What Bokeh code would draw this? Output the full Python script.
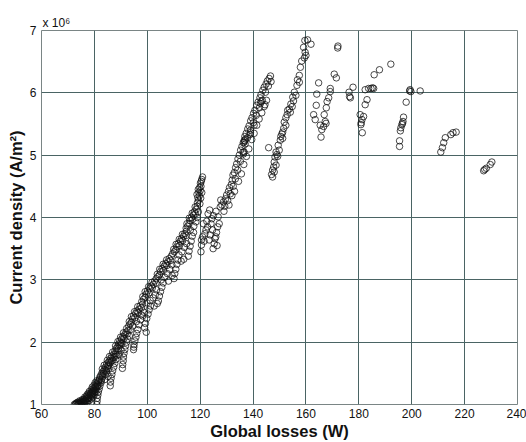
from bokeh.plotting import figure
from bokeh.models import FixedTicker, Range1d
from bokeh.embed import file_html
from bokeh.resources import INLINE

# ---- data: global losses (W) vs current density (x 1e6 A/m^2) ----
band_bottom = [
    (72.4,1.00),(72.8,1.00),(73.2,1.01),(73.6,1.00),(74.0,1.02),(74.4,1.01),(74.9,1.03),(75.3,1.02),
    (75.8,1.04),(76.2,1.05),(76.0,1.08),(76.6,1.07),(77.1,1.09),(77.5,1.10),(77.0,1.13),(77.9,1.12),
    (78.3,1.15),(77.8,1.18),(78.6,1.19),(79.0,1.17),(79.4,1.21),(78.9,1.24),(79.7,1.26),(80.1,1.23),
    (80.4,1.29),(79.9,1.31),(80.8,1.33),(81.2,1.30),(81.5,1.36),(80.9,1.38),(81.9,1.40),(74.5,1.06),
    (75.5,1.08),(76.4,1.12),(77.3,1.16),(78.1,1.21),(79.2,1.28),(80.3,1.35),(73.9,1.04),(75.0,1.00),
    (76.1,1.01),(77.2,1.03),(78.0,1.06),(78.8,1.09),(79.5,1.12),(80.0,1.16),(80.6,1.20),(81.0,1.05),
    (80.9,1.00),(81.1,1.10),(81.3,1.15),(81.5,1.20),(81.8,1.25),(82.1,1.30),(82.5,1.35),(82.8,1.41),
    (83.2,1.45),(73.0,1.02),(73.5,1.03),(74.2,1.00),(74.7,1.04),(75.1,1.05),(75.7,1.01),(76.3,1.03),
    (76.8,1.05),(77.4,1.06),(77.8,1.09),(78.4,1.11),(78.9,1.14),(79.3,1.16),(79.8,1.19),(80.2,1.21),
    (80.7,1.25),(81.0,1.28),(75.9,1.06),(76.7,1.10),(77.6,1.14),(78.5,1.17),(79.1,1.20),(79.6,1.23),
    (80.5,1.27),(81.4,1.32),(81.7,1.38),(82.0,1.43),
]
band_low = [
    (82.3,1.46),(82.8,1.50),(83.3,1.53),(83.0,1.57),(83.8,1.56),(84.2,1.60),(83.7,1.63),(84.6,1.65),
    (85.0,1.62),(85.3,1.68),(84.9,1.71),(85.8,1.70),(86.2,1.74),(85.7,1.77),(86.6,1.78),(87.1,1.75),
    (87.4,1.81),(86.9,1.84),(84.0,1.48),(84.5,1.52),(85.5,1.58),(86.0,1.30),(86.1,1.36),(86.3,1.42),
    (86.6,1.48),(86.9,1.54),(87.3,1.60),(87.7,1.66),(88.1,1.72),(88.4,1.78),(85.2,1.45),(83.9,1.40),
    (82.6,1.38),(82.9,1.47),(83.5,1.50),(84.3,1.55),(84.8,1.58),(85.4,1.63),(86.0,1.67),(86.5,1.70),
    (87.0,1.71),(87.6,1.77),(88.1,1.81),(88.6,1.86),(89.1,1.90),(89.7,1.95),(90.4,1.98),
    (87.8,1.86),(88.3,1.90),(88.0,1.94),(88.8,1.93),(89.2,1.97),(88.9,2.01),(89.6,2.02),(90.0,1.99),
    (90.3,2.05),(89.9,2.08),(90.8,2.09),(91.2,2.06),(91.5,2.12),(91.0,2.15),(92.0,2.16),(92.4,2.13),
    (92.7,2.19),(92.2,2.22),(90.6,1.58),(90.7,1.64),(90.9,1.70),(91.0,1.76),(91.2,1.82),(91.5,1.88),
    (91.8,1.94),(92.2,2.00),(92.6,2.05),(93.2,2.10),(93.6,2.20),(94.8,1.88),(94.9,1.92),(95.0,1.96),
    (95.3,2.02),(95.7,2.08),(96.0,2.14),(96.4,2.20),(89.4,1.80),(90.1,1.87),
]
band_mid = [
    (93.0,2.26),(93.5,2.29),(93.2,2.33),(94.0,2.32),(94.4,2.37),(94.0,2.41),(94.8,2.42),(95.3,2.39),
    (95.6,2.46),(95.2,2.49),(96.1,2.50),(96.5,2.47),(96.9,2.53),(96.4,2.57),(97.3,2.58),(97.8,2.55),
    (98.2,2.61),(94.5,2.26),(95.9,2.33),(96.8,2.28),(97.5,2.36),(98.3,2.42),(99.0,2.23),(99.3,2.30),
    (99.8,2.38),(100.3,2.45),(100.7,2.52),(99.6,2.16),(101.2,2.58),(98.8,2.48),(97.7,2.44),
    (97.9,2.65),(98.6,2.69),(98.3,2.73),(99.2,2.72),(99.6,2.77),(99.2,2.81),(100.1,2.82),(100.6,2.79),
    (100.9,2.86),(100.5,2.89),(101.5,2.90),(101.9,2.87),(102.3,2.93),(101.8,2.96),(102.8,2.98),
    (103.3,2.95),(99.9,2.63),(101.1,2.67),(102.2,2.71),(103.0,2.76),(103.5,2.84),(104.2,2.66),
    (104.6,2.74),(105.0,2.81),(105.5,2.88),(106.0,2.95),(102.6,2.58),(103.8,2.62),
    (103.4,3.02),(104.0,3.05),(103.8,3.09),(104.6,3.08),(105.0,3.13),(104.7,3.17),(105.6,3.18),
    (106.1,3.15),(106.4,3.22),(106.0,3.25),(107.0,3.26),(107.4,3.23),(107.8,3.29),(107.3,3.32),
    (108.3,3.34),(108.8,3.31),(109.1,3.38),(105.3,3.00),(106.6,3.04),(107.6,3.10),(108.5,3.17),
    (109.3,3.24),(110.1,3.02),(110.4,3.10),(110.8,3.17),(111.2,3.25),(111.6,3.32),(108.0,2.98),
    (109.4,3.07),
]
band_high = [
    (109.6,3.42),(110.2,3.45),(110.0,3.49),(110.8,3.48),(111.2,3.53),(110.9,3.57),(111.7,3.58),
    (112.2,3.55),(112.5,3.62),(112.1,3.65),(113.0,3.66),(113.4,3.63),(113.7,3.70),(113.3,3.73),
    (114.2,3.74),(114.6,3.71),(114.8,3.78),(112.0,3.40),(113.1,3.45),(114.0,3.52),(114.9,3.58),
    (115.5,3.38),(115.8,3.46),(116.2,3.54),(116.6,3.62),(117.0,3.70),(113.8,3.33),(112.8,3.30),
    (114.7,3.83),(115.3,3.86),(115.0,3.90),(115.8,3.90),(116.2,3.95),(115.9,3.99),(116.7,4.00),
    (117.1,3.97),(117.4,4.04),(117.0,4.07),(117.8,4.09),(118.2,4.06),(118.5,4.13),(118.1,4.17),
    (118.9,4.18),(116.3,3.80),(117.6,3.86),(118.4,3.93),(118.9,4.00),(119.3,4.09),(117.5,3.76),
    (119.0,4.24),(119.4,4.28),(119.1,4.32),(119.7,4.35),(119.5,4.40),(120.0,4.43),(119.8,4.48),
    (120.3,4.50),(120.1,4.55),(120.4,4.58),(120.9,4.65),(120.6,4.61),(119.9,4.22),(120.2,4.31),
    (120.6,4.40),(119.3,4.45),(118.8,4.37),
]
branch = [
    (120.3,3.45),(120.5,3.56),(120.5,3.64),(120.9,3.69),(121.5,3.62),(121.8,3.74),(122.2,3.80),
    (122.8,3.85),(122.5,3.94),(123.0,4.06),(123.4,3.64),(123.8,3.72),(124.1,3.90),(124.7,3.80),
    (124.4,3.98),(125.3,3.58),(125.6,3.66),(125.9,3.69),(126.2,3.76),(126.6,3.85),(126.8,4.01),
    (127.2,3.90),(127.6,4.17),(127.8,4.28),(126.0,4.10),(125.0,4.03),(123.6,4.12),(121.2,3.90),
    (124.9,3.50),(126.4,3.55),
]
band_upper = [
    (128.2,4.20),(128.8,4.25),(129.3,4.18),(129.6,4.30),(130.0,4.36),(130.4,4.27),(130.7,4.42),
    (131.1,4.48),(131.4,4.38),(131.8,4.53),(132.1,4.60),(132.5,4.50),(132.4,4.68),(132.9,4.72),
    (133.3,4.62),(133.4,4.80),(133.8,4.86),(134.2,4.76),(134.3,4.94),(134.8,5.00),(135.2,4.90),
    (135.3,5.08),(135.8,5.14),(136.2,5.05),(136.3,5.20),(136.7,5.24),(137.0,5.18),(136.9,5.30),
    (137.4,5.35),(137.9,5.28),(138.0,5.42),(138.5,5.47),(139.0,5.40),(139.1,5.55),(139.6,5.60),
    (140.1,5.52),(140.2,5.67),(140.7,5.72),(141.2,5.64),(141.4,5.80),(141.9,5.85),(142.4,5.76),
    (142.6,5.92),(143.0,5.97),(143.5,5.88),(143.7,6.04),(144.2,6.09),(144.7,6.01),(144.9,6.14),
    (145.4,6.19),(145.8,6.11),(146.1,6.23),(146.6,6.27),(146.8,6.18),(129.0,4.10),(130.9,4.20),
    (132.0,4.35),(133.0,4.42),(134.5,4.58),(135.6,4.70),(136.5,4.85),(137.5,4.98),(138.4,5.10),
    (139.5,5.25),(140.4,5.35),(141.4,5.48),(142.3,5.58),(143.3,5.68),(144.2,5.78),(145.1,5.88),
    (136.6,5.21),(136.9,5.23),(137.2,5.26),(136.4,5.02),(136.6,5.05),(138.8,5.33),(139.0,5.36),
    (140.4,5.48),(142.8,5.83),(143.1,5.86),(144.5,5.81),(145.9,5.12),
]
strand_160 = [
    (160.6,6.85),(161.9,6.78),(159.6,6.84),(159.1,6.73),(159.7,6.65),(160.0,6.60),(159.4,6.56),
    (158.4,6.51),(157.9,6.41),(157.5,6.28),(156.8,6.21),(157.5,6.17),(156.6,6.12),(155.6,6.01),
    (156.2,5.96),(155.0,5.93),(155.3,5.87),(154.3,5.82),(153.7,5.74),(153.1,5.72),(154.1,5.69),
    (152.4,5.60),(151.8,5.53),(152.4,5.48),(151.6,5.43),(151.2,5.37),(150.5,5.30),(151.2,5.27),
    (150.3,5.24),(149.5,5.16),(149.9,5.08),(148.7,5.05),(149.3,4.98),(148.3,4.97),(148.0,4.89),
    (148.7,4.84),(147.8,4.81),(147.4,4.76),(148.0,4.73),(147.0,4.69),(147.4,4.65),(154.8,5.78),
    (152.9,5.65),(150.9,5.34),(149.0,5.01),
]
cluster_165 = [
    (164.8,6.16),(164.1,5.98),(163.9,5.80),(162.9,5.65),(163.5,5.57),(165.7,5.29),(166.0,5.41),
    (166.7,5.46),(167.3,5.54),(166.9,5.65),(167.7,5.76),(168.0,5.86),(168.6,5.92),(169.2,6.07),
    (170.7,6.30),(171.5,6.24),(172.0,6.72),(172.1,6.75),(165.4,5.48),(167.6,5.51),(169.2,6.02),
    (176.5,5.94),(176.8,5.92),(176.3,6.01),(177.8,6.09),
]
cluster_182 = [
    (180.5,5.65),(181.2,5.57),(180.8,5.49),(181.3,5.36),(181.8,5.62),(182.4,5.81),(183.1,5.89),
    (182.4,6.05),(183.7,6.07),(184.6,6.07),(185.2,6.08),(185.6,6.07),(185.8,6.29),(187.8,6.37),
    (192.1,6.46),(180.9,5.52),
]
cluster_197 = [
    (197.9,5.85),(196.9,5.61),(196.7,5.54),(196.3,5.49),(195.9,5.44),(195.7,5.39),(195.4,5.23),
    (195.4,5.14),(199.2,6.03),(199.7,6.02),(199.4,6.05),(203.2,6.03),(196.5,5.51),
]
cluster_213 = [
    (211.0,5.05),(211.6,5.12),(212.1,5.20),(212.7,5.28),(214.8,5.33),(215.6,5.36),(216.8,5.37),
]
cluster_229 = [
    (227.2,4.75),(228.2,4.79),(229.7,4.85),(230.3,4.89),(227.6,4.77),
]

x_ticks = [60, 80, 100, 120, 140, 160, 180, 200, 220, 240]
y_ticks = [1, 2, 3, 4, 5, 6, 7]
y_multiplier = "x 10\u2076"

groups = [band_bottom, band_low, band_mid, band_high, branch, band_upper,
          strand_160, cluster_165, cluster_182, cluster_197, cluster_213, cluster_229]
losses_W = [pt[0] for g in groups for pt in g]
density = [pt[1] for g in groups for pt in g]

FONT = "Liberation Sans"

p = figure(output_backend="svg", toolbar_location=None,
           width=526, height=442, title=y_multiplier,
           x_range=Range1d(60, 240), y_range=Range1d(1, 7),
           min_border_left=41, min_border_top=30, min_border_right=9, min_border_bottom=38)

p.title.align = "left"
p.title.offset = 1
p.title.standoff = 2
p.title.text_font = FONT
p.title.text_font_size = "12px"
p.title.text_font_style = "normal"
p.title.text_color = "#111111"

p.scatter(losses_W, density, marker="circle", size=6.5, fill_color=None,
          line_color="#111111", line_width=0.85, line_alpha=0.9)

p.background_fill_color = "white"
p.border_fill_color = "white"
p.outline_line_color = "#7a8585"
p.outline_line_width = 1

for ax, ticks in ((p.xaxis, x_ticks), (p.yaxis, y_ticks)):
    ax.ticker = FixedTicker(ticks=ticks)
    ax.axis_line_color = None
    ax.major_tick_line_color = None
    ax.minor_tick_line_color = None
    ax.major_tick_out = 0
    ax.major_tick_in = 0
    ax.major_label_text_font = FONT
    ax.major_label_text_font_size = "12px"
    ax.major_label_text_color = "#111111"
    ax.axis_label_text_font = FONT
    ax.axis_label_text_font_size = "16.5px"
    ax.axis_label_text_font_style = "bold"
    ax.axis_label_text_color = "#111111"

p.xaxis.axis_label = "Global losses (W)"
p.yaxis.axis_label = "Current density (A/m²)"
p.xaxis.major_label_standoff = 4
p.yaxis.major_label_standoff = 5
p.xaxis.axis_label_standoff = 1
p.yaxis.axis_label_standoff = 2

p.xgrid.ticker = FixedTicker(ticks=x_ticks)
p.ygrid.ticker = FixedTicker(ticks=y_ticks)
for g in (p.xgrid, p.ygrid):
    g.grid_line_color = "#4a6464"
    g.grid_line_width = 1

open("out.html", "w").write(file_html(p, INLINE))
